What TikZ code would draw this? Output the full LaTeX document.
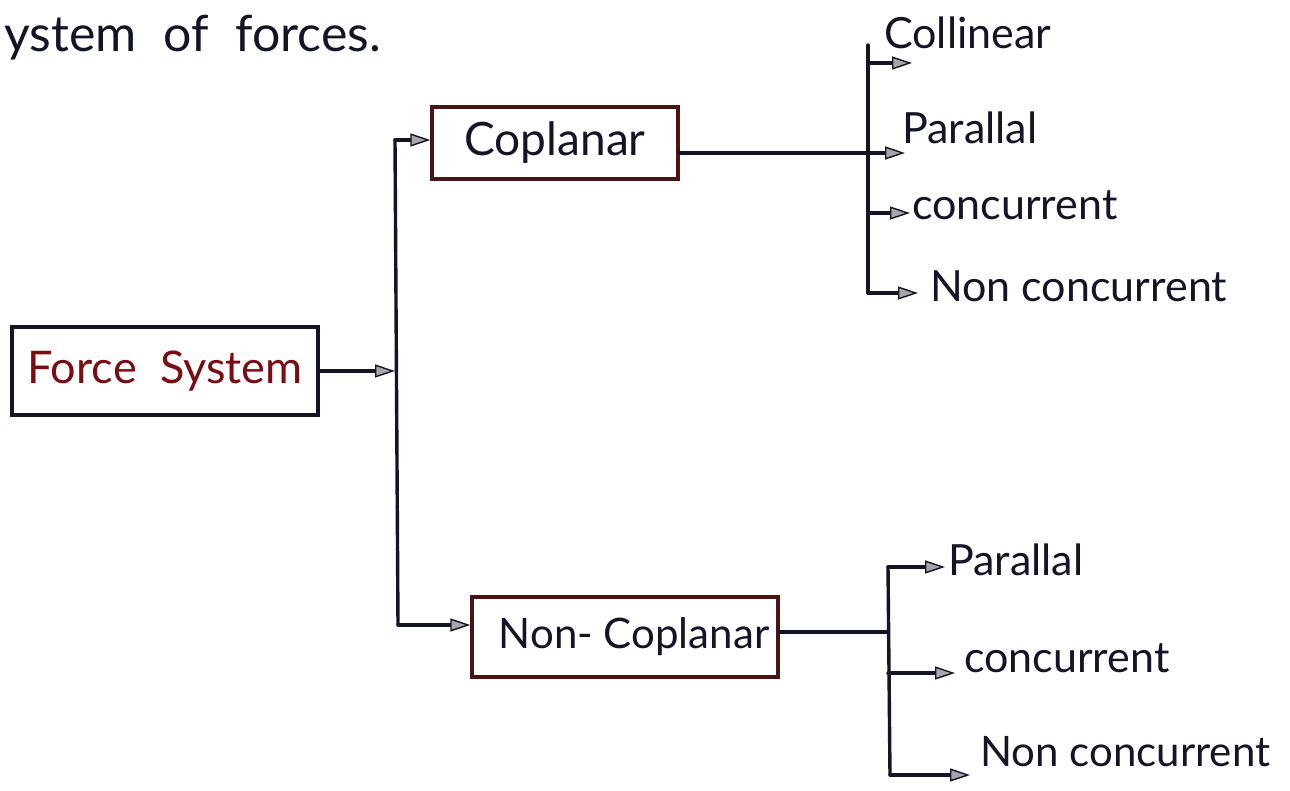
\documentclass[tikz,border=0pt]{standalone}
\usepackage{fontspec}
\setmainfont{Lato}
\usetikzlibrary{arrows.meta}
\definecolor{ink}{HTML}{141428}
\definecolor{redink}{HTML}{7A0C12}
\definecolor{boxred}{HTML}{4A1414}
\tikzset{
  wire/.style={line width=3.4pt, draw=ink, line cap=round},
  arr/.style={wire, -{Triangle[length=20pt, width=13pt, fill=gray!70, line width=1.4pt]}},
  lbl/.style={inner sep=0pt, anchor=west, text=ink, font=\fontsize{43}{45}\selectfont},
  boxa/.style={draw=boxred, line width=3.4pt, inner sep=0pt, minimum height=72pt, text=ink, font=\fontsize{46}{48}\selectfont},
}
\begin{document}
\begin{tikzpicture}[x=1pt,y=-1pt]
\useasboundingbox (0,0) rectangle (1290,790);
\fill[white] (0,0) rectangle (1290,790);

% title fragment
\node[lbl, font=\fontsize{50}{52}\selectfont] (title) at (4,38) {ystem\hspace{14pt} of\hspace{14pt} forces.};

% main box
\node[draw=ink, line width=3.4pt, minimum width=306pt, minimum height=88pt, inner sep=0pt,
      text=redink, font=\fontsize{45}{47}\selectfont] (fs) at (165,371) {Force\hspace{12pt} System};

% bus 1
\coordinate (vtop) at (395,140);
\coordinate (vbot) at (398,625);
\draw[wire] (vtop) -- (vbot);
\draw[arr] (fs.east) -- (fs.east -| vtop);

% Coplanar
\node[boxa, minimum width=246pt] (cop) at (555,143) {Coplanar};
\draw[arr] (vtop) -- (cop.west |- vtop);

% Non-Coplanar
\node[boxa, minimum width=306pt, minimum height=80pt, font=\fontsize{42}{44}\selectfont] (ncop) at (625,637) {\hspace*{18pt}Non- Coplanar};
\draw[arr] (vbot) -- (ncop.west |- vbot);

% right bus (coplanar)
\coordinate (r1top) at (868,45);
\coordinate (r1bot) at (868,293);
\draw[wire] (r1top) -- (r1bot);
\draw[wire] (cop.east |- 0,153) -- (r1top |- 0,153);

\coordinate (e1) at (912,63);
\coordinate (e2) at (905,153);
\coordinate (e3) at (910,213);
\coordinate (e4) at (918,293);
\draw[arr] (e1 -| r1top) -- (e1);
\draw[arr] (e2 -| r1top) -- (e2);
\draw[arr] (e3 -| r1top) -- (e3);
\draw[arr] (r1bot) -- (e4);

\node[lbl] (col) at (884,33) {Collinear};
\node[lbl] (par1) at (902,128) {Parallal};
\node[lbl] (con1) at (912,205) {concurrent};
\node[lbl] (nc1) at (930,286) {Non concurrent};

% right bus (non-coplanar)
\coordinate (r2top) at (888,567);
\coordinate (r2bot) at (890,775);
\draw[wire] (r2top) -- (r2bot);
\draw[wire] (ncop.east |- 0,632) -- (r2top |- 0,632);

\coordinate (f1) at (945,567);
\coordinate (f2) at (955,673);
\coordinate (f3) at (970,775);
\draw[arr] (r2top) -- (f1);
\draw[arr] (f2 -| r2top) -- (f2);
\draw[arr] (r2bot) -- (f3);

\node[lbl] (par2) at (948,560) {Parallal};
\node[lbl] (con2) at (964,658) {concurrent};
\node[lbl, font=\fontsize{42}{44}\selectfont] (nc2) at (980,752) {Non concurrent};
\end{tikzpicture}
\end{document}
